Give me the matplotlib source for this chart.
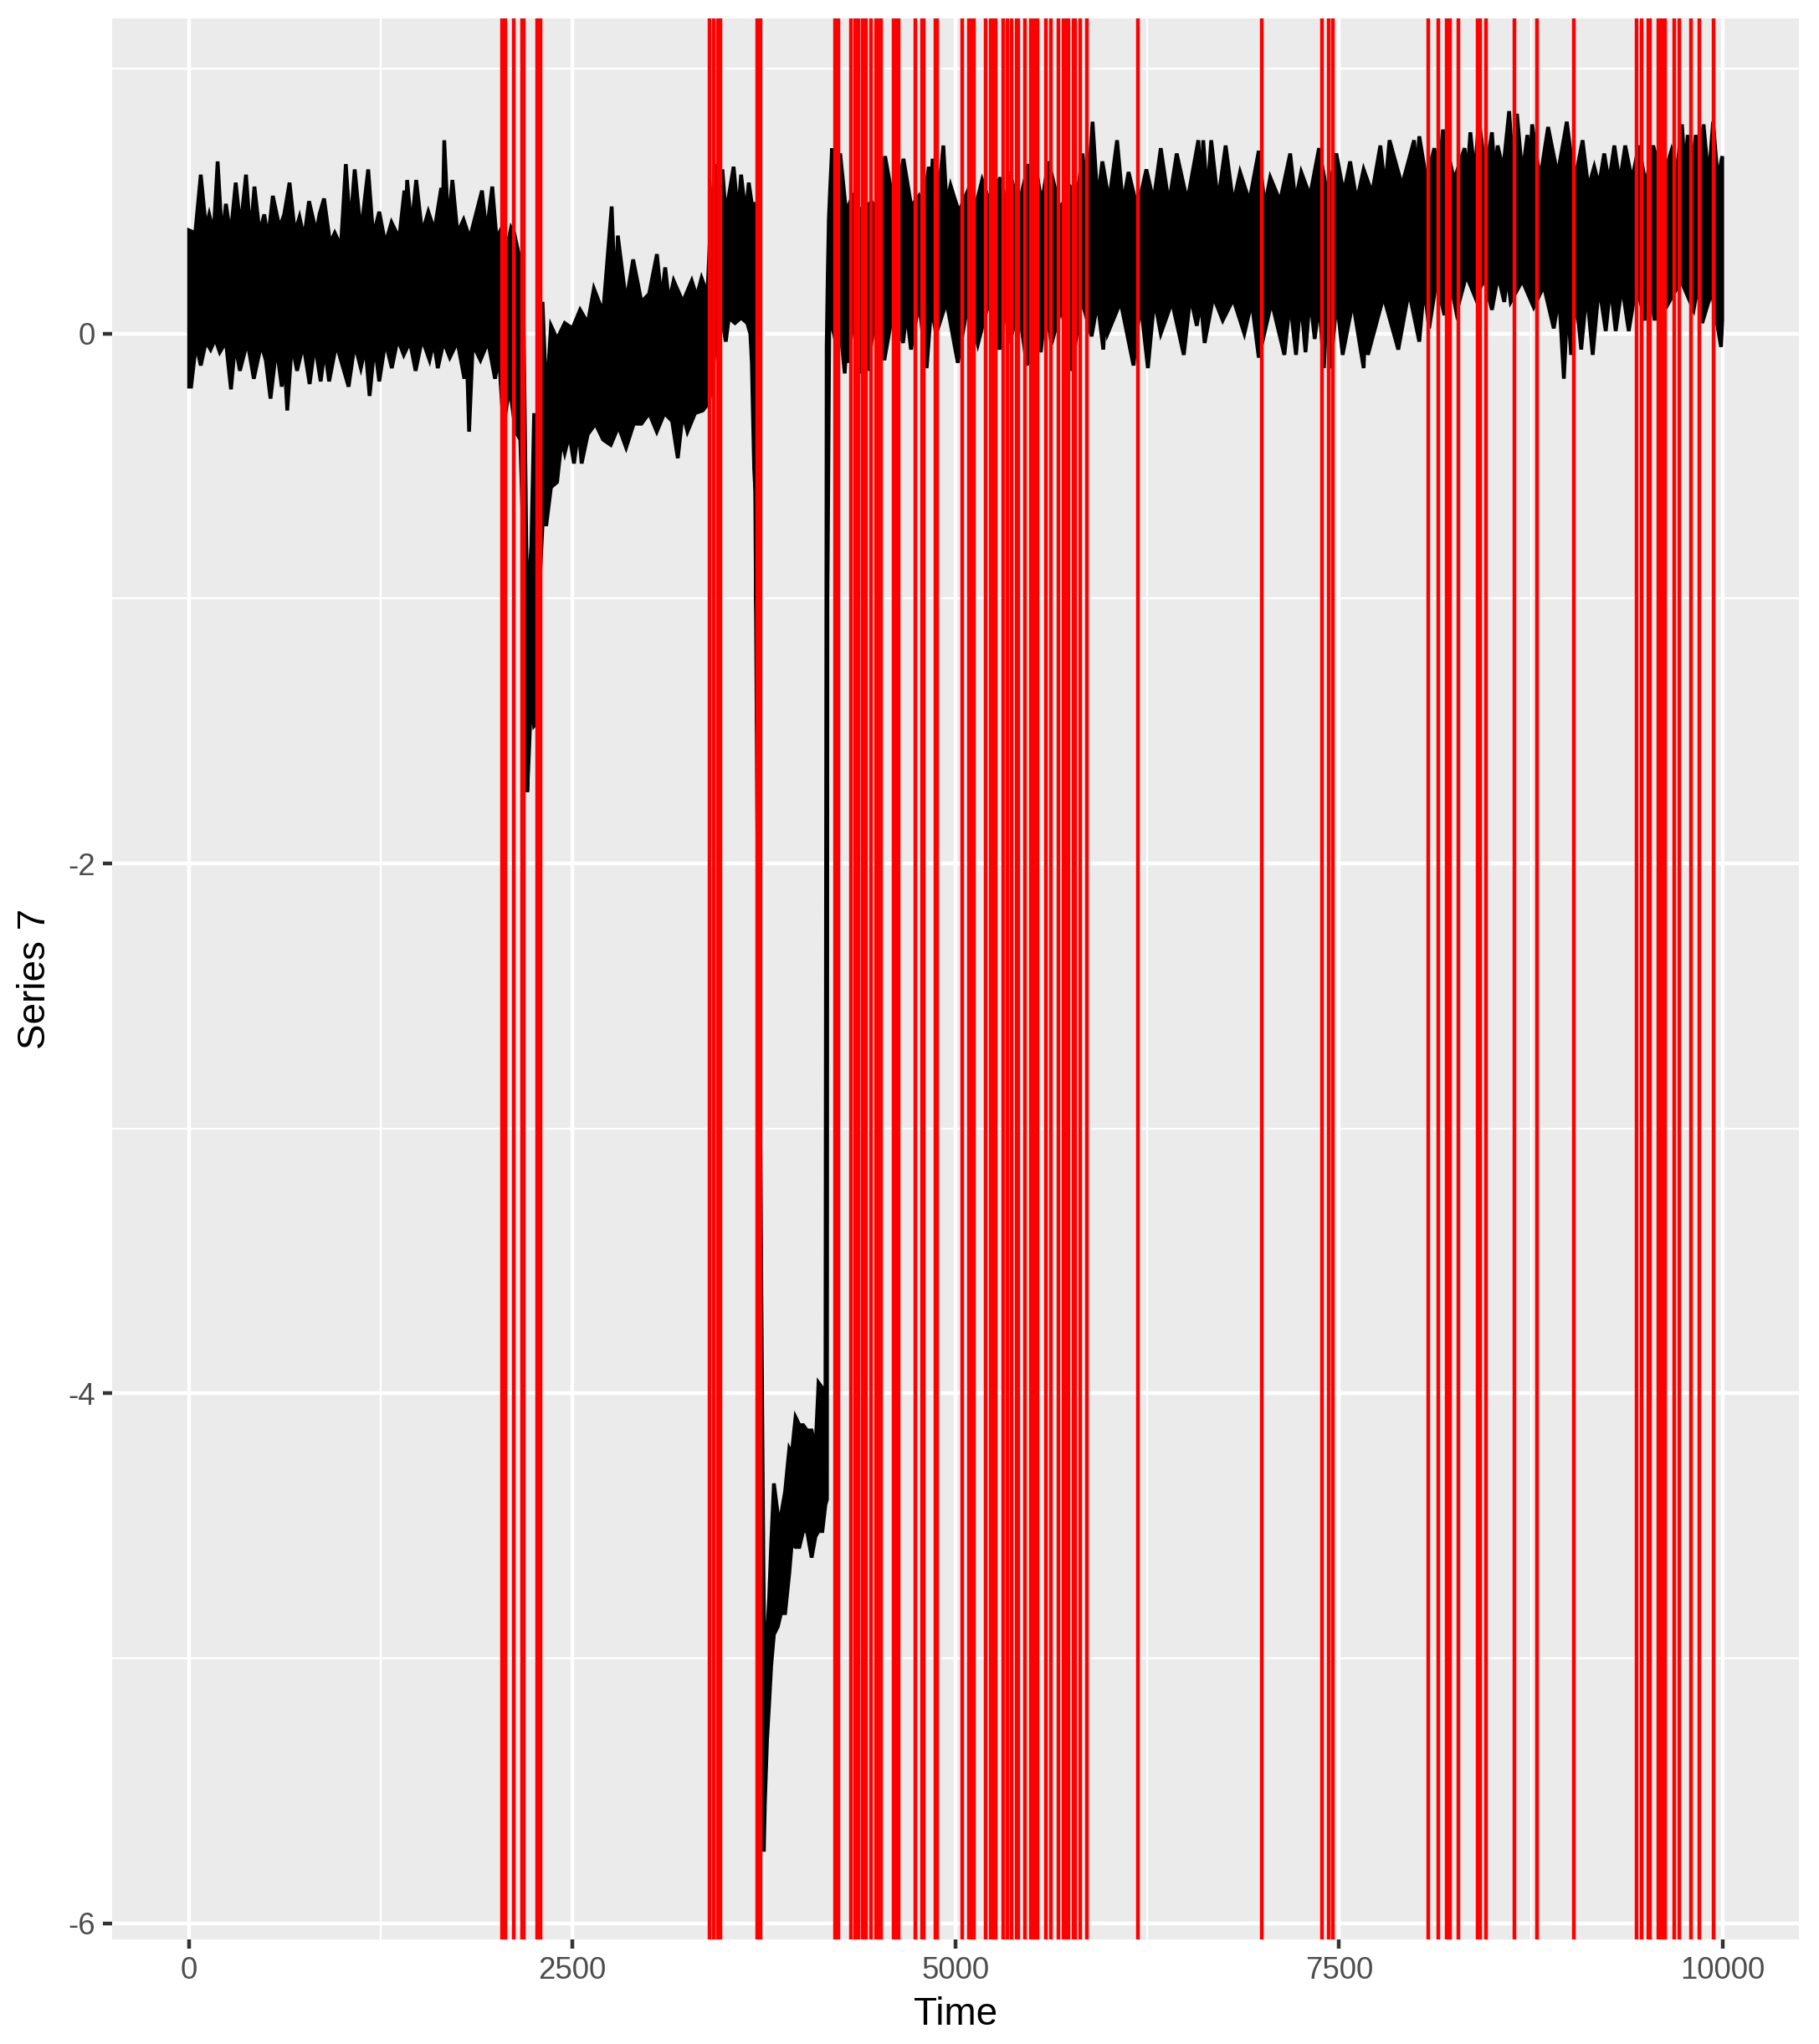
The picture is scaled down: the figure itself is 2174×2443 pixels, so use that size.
import numpy as np
import matplotlib
matplotlib.use("Agg")
import matplotlib.pyplot as plt

# ---------------- data ----------------
# The 10000-point series is drawn as a dense band; its upper and lower edges
# (local peaks / troughs and the shoulders between them) were read off the picture
# as (time, value) pairs, segment by segment.

# t 0-2000: noisy level around 0.1
upper_seg_a = [(0, 0.39), (40, 0.38), (76, 0.60), (110, 0.40), (131, 0.45), (160, 0.38),
               (186, 0.65), (215, 0.36), (240, 0.49), (270, 0.37), (304, 0.57), (335, 0.40),
               (371, 0.60), (400, 0.37), (426, 0.555), (460, 0.38), (490, 0.45), (515, 0.36),
               (546, 0.52), (590, 0.40), (620, 0.45), (655, 0.57), (690, 0.38), (720, 0.44),
               (750, 0.36), (782, 0.50), (830, 0.38), (850, 0.45), (880, 0.51), (920, 0.34),
               (950, 0.38), (990, 0.33), (1022, 0.64), (1050, 0.40), (1080, 0.62), (1120, 0.38),
               (1168, 0.62), (1200, 0.37), (1240, 0.46), (1280, 0.34), (1320, 0.42), (1370, 0.36),
               (1404, 0.54), (1412, 0.42), (1422, 0.58), (1450, 0.40), (1481, 0.58), (1520, 0.38),
               (1560, 0.46), (1600, 0.39), (1644, 0.55), (1654, 0.45), (1664, 0.73), (1690, 0.40),
               (1717, 0.58), (1750, 0.38), (1790, 0.43), (1830, 0.36), (1870, 0.45), (1910, 0.54),
               (1940, 0.38), (1977, 0.555), (2005, 0.36)]
lower_seg_a = [(0, -0.20), (13, -0.20), (45, -0.04), (76, -0.12), (110, -0.03), (140, -0.06),
               (170, -0.02), (200, -0.07), (240, -0.03), (273, -0.21), (300, -0.04), (331, -0.14),
               (380, -0.03), (422, -0.17), (470, -0.04), (500, -0.10), (531, -0.245), (570, -0.05),
               (604, -0.20), (620, -0.08), (640, -0.29), (670, -0.04), (704, -0.14), (745, -0.04),
               (786, -0.19), (820, -0.04), (858, -0.18), (885, -0.06), (913, -0.18), (960, -0.04),
               (1000, -0.12), (1040, -0.20), (1080, -0.04), (1120, -0.13), (1150, -0.05),
               (1177, -0.235), (1210, -0.04), (1240, -0.18), (1280, -0.03), (1322, -0.13),
               (1360, -0.02), (1400, -0.08), (1440, -0.03), (1477, -0.14), (1520, -0.02),
               (1568, -0.10), (1595, -0.03), (1622, -0.13), (1660, -0.03), (1700, -0.09),
               (1750, -0.03), (1795, -0.17), (1810, -0.06), (1826, -0.37), (1850, -0.04),
               (1900, -0.10), (1950, -0.03), (1995, -0.17), (2020, -0.08)]

# t 2000-2305: first dip down to -1.7
upper_seg_b = [(2040, 0.40), (2075, 0.33), (2100, 0.40), (2120, 0.38), (2150, 0.30), (2180, 0.10),
               (2195, -0.59), (2205, -1.07), (2215, -0.95), (2232, -0.80), (2250, -0.30),
               (2265, -0.85), (2290, -0.50), (2305, 0.12)]
lower_seg_b = [(2050, -0.35), (2090, -0.20), (2130, -0.37), (2160, -0.40), (2195, -1.10),
               (2205, -1.73), (2215, -1.60), (2232, -1.36), (2250, -1.48), (2265, -1.47),
               (2290, -0.90), (2305, -0.72)]

# t 2305-3400: slow recovery
upper_seg_c = [(2330, -0.25), (2360, 0.03), (2400, -0.02), (2450, 0.04), (2500, 0.02), (2550, 0.09),
               (2600, 0.04), (2640, 0.17), (2700, 0.08), (2756, 0.48), (2780, 0.12), (2796, 0.37),
               (2850, 0.12), (2896, 0.28), (2950, 0.12), (3000, 0.15), (3051, 0.30), (3080, 0.13),
               (3105, 0.25), (3130, 0.12), (3160, 0.20), (3220, 0.12), (3278, 0.20), (3310, 0.14),
               (3342, 0.21), (3380, 0.15)]
lower_seg_c = [(2330, -0.72), (2360, -0.58), (2400, -0.56), (2430, -0.40), (2450, -0.45),
               (2480, -0.38), (2510, -0.49), (2540, -0.36), (2560, -0.49), (2600, -0.38),
               (2650, -0.34), (2700, -0.40), (2750, -0.42), (2800, -0.35), (2850, -0.43),
               (2900, -0.34), (2950, -0.34), (3000, -0.30), (3050, -0.37), (3100, -0.30),
               (3150, -0.33), (3187, -0.47), (3220, -0.30), (3250, -0.37), (3300, -0.30),
               (3350, -0.29), (3390, -0.26)]

# t 3400-3690: raised plateau, then the big drop
upper_seg_d = [(3400, 0.40), (3430, 0.64), (3460, 0.45), (3478, 0.62), (3500, 0.45), (3551, 0.63),
               (3580, 0.45), (3600, 0.60), (3630, 0.45), (3650, 0.57), (3670, 0.49), (3687, 0.49),
               (3695, -0.60)]
lower_seg_d = [(3405, -0.20), (3430, -0.05), (3478, 0.05), (3500, -0.03), (3520, 0.06),
               (3560, 0.04), (3600, 0.06), (3640, 0.04), (3660, 0.00), (3670, -0.11),
               (3675, -0.25), (3685, -0.51), (3692, -0.59)]

# t 3745-4160: deep low level, recovering
upper_seg_e = [(3745, -4.62), (3752, -5.00), (3769, -4.92), (3783, -4.77), (3796, -4.57),
               (3814, -4.34), (3840, -4.46), (3860, -4.46), (3887, -4.37), (3914, -4.21),
               (3930, -4.23), (3955, -4.09), (3980, -4.12), (4005, -4.12), (4030, -4.14),
               (4060, -4.14), (4085, -4.21), (4105, -3.96), (4130, -3.98), (4150, -3.98)]
lower_seg_e = [(3748, -5.73), (3755, -5.55), (3769, -5.31), (3783, -5.17), (3796, -5.03),
               (3814, -4.91), (3840, -4.88), (3860, -4.83), (3887, -4.83), (3914, -4.68),
               (3930, -4.57), (3955, -4.58), (3980, -4.58), (4005, -4.52), (4030, -4.52),
               (4060, -4.62), (4085, -4.54), (4105, -4.52), (4130, -4.52), (4150, -4.42),
               (4160, -4.40)]

# t 4155-4205: jump back up
upper_seg_f = [(4158, -0.05), (4165, 0.22), (4172, 0.43), (4180, 0.54), (4193, 0.70), (4205, 0.60)]
lower_seg_f = [(4163, -1.00), (4168, -0.60), (4175, 0.03), (4185, 0.05), (4205, 0.00)]

# t 4205-10000: noisy level around 0.35
upper_seg_g = [(4246, 0.68), (4285, 0.46), (4327, 0.52), (4390, 0.45), (4449, 0.50), (4490, 0.46),
               (4539, 0.67), (4600, 0.47), (4659, 0.66), (4710, 0.48), (4759, 0.52), (4790, 0.47),
               (4824, 0.63), (4835, 0.50), (4849, 0.66), (4885, 0.50), (4919, 0.71), (4940, 0.49),
               (4966, 0.56), (5020, 0.46), (5079, 0.54), (5125, 0.47), (5172, 0.58), (5230, 0.48),
               (5289, 0.59), (5320, 0.47), (5351, 0.61), (5410, 0.48), (5473, 0.64), (5495, 0.50),
               (5520, 0.64), (5560, 0.49), (5605, 0.65), (5680, 0.47), (5749, 0.55), (5790, 0.50),
               (5826, 0.68), (5860, 0.51), (5892, 0.80), (5925, 0.50), (5956, 0.65), (6000, 0.50),
               (6052, 0.73), (6090, 0.49), (6127, 0.61), (6185, 0.47), (6243, 0.62), (6290, 0.50),
               (6337, 0.70), (6390, 0.49), (6441, 0.68), (6510, 0.50), (6582, 0.73), (6598, 0.55),
               (6614, 0.73), (6640, 0.52), (6666, 0.73), (6710, 0.50), (6760, 0.71), (6810, 0.49),
               (6854, 0.61), (6915, 0.50), (6976, 0.69), (7015, 0.48), (7051, 0.59), (7115, 0.50),
               (7181, 0.68), (7215, 0.50), (7253, 0.61), (7310, 0.52), (7369, 0.70), (7425, 0.52),
               (7482, 0.68), (7530, 0.53), (7572, 0.65), (7615, 0.50), (7660, 0.62), (7715, 0.53),
               (7769, 0.71), (7800, 0.55), (7829, 0.73), (7910, 0.56), (7989, 0.73), (8005, 0.60),
               (8023, 0.745), (8070, 0.58), (8121, 0.70), (8150, 0.58), (8177, 0.77), (8250, 0.58),
               (8318, 0.70), (8337, 0.60), (8356, 0.76), (8385, 0.60), (8412, 0.81), (8455, 0.60),
               (8497, 0.76), (8515, 0.60), (8534, 0.71), (8570, 0.62), (8609, 0.84), (8635, 0.62),
               (8660, 0.83), (8695, 0.60), (8728, 0.75), (8744, 0.62), (8759, 0.79), (8810, 0.58),
               (8863, 0.78), (8925, 0.60), (8985, 0.80), (9035, 0.57), (9088, 0.73), (9125, 0.55),
               (9164, 0.63), (9195, 0.56), (9229, 0.68), (9260, 0.57), (9295, 0.71), (9330, 0.57),
               (9366, 0.71), (9410, 0.58), (9455, 0.71), (9500, 0.56), (9548, 0.71), (9610, 0.58),
               (9667, 0.69), (9700, 0.60), (9736, 0.79), (9755, 0.62), (9774, 0.75), (9800, 0.60),
               (9826, 0.75), (9850, 0.60), (9877, 0.79), (9910, 0.58), (9939, 0.80), (9970, 0.58),
               (9999, 0.67)]
lower_seg_g = [(4240, 0.06), (4276, -0.15), (4290, 0.02), (4299, -0.11), (4335, 0.08), (4374, -0.15),
               (4400, 0.06), (4426, -0.14), (4480, 0.10), (4534, -0.10), (4595, 0.10), (4656, -0.035),
               (4680, 0.08), (4708, -0.06), (4760, 0.12), (4810, -0.13), (4840, 0.10), (4872, 0.00),
               (4940, 0.12), (5013, -0.11), (5080, 0.12), (5144, -0.04), (5215, 0.12), (5285, -0.06),
               (5320, 0.11), (5351, -0.035), (5410, 0.10), (5464, -0.12), (5510, 0.12), (5554, -0.07),
               (5590, 0.12), (5623, -0.04), (5690, 0.10), (5755, -0.14), (5820, 0.13), (5886, -0.01),
               (5925, 0.12), (5962, -0.06), (5975, 0.08), (5990, 0.00), (6075, 0.12), (6159, -0.12),
               (6205, 0.12), (6253, -0.13), (6295, 0.13), (6337, 0.00), (6410, 0.12), (6487, -0.08),
               (6530, 0.14), (6572, 0.03), (6598, 0.12), (6623, -0.035), (6680, 0.14), (6741, 0.05),
               (6810, 0.13), (6882, 0.00), (6930, 0.12), (6976, -0.09), (7060, 0.12), (7143, -0.08),
               (7180, 0.12), (7219, -0.08), (7250, 0.13), (7281, -0.07), (7310, 0.14), (7341, -0.02),
               (7370, 0.12), (7401, -0.13), (7420, 0.10), (7444, -0.13), (7485, 0.13), (7523, -0.08),
               (7590, 0.12), (7660, -0.13), (7675, 0.08), (7688, -0.08), (7790, 0.14), (7886, -0.06),
               (7955, 0.16), (8023, -0.03), (8055, 0.18), (8087, 0.02), (8135, 0.20), (8187, 0.07),
               (8225, 0.20), (8265, 0.08), (8330, 0.22), (8393, 0.13), (8445, 0.21), (8497, 0.09),
               (8537, 0.22), (8577, 0.12), (8598, 0.22), (8619, 0.12), (8695, 0.20), (8769, 0.10),
               (8835, 0.18), (8900, 0.02), (8935, 0.14), (8966, -0.17), (8990, 0.12), (9013, -0.08),
               (9045, 0.14), (9079, -0.06), (9115, 0.16), (9154, -0.08), (9195, 0.18), (9239, 0.01),
               (9270, 0.18), (9304, 0.01), (9345, 0.18), (9389, 0.01), (9440, 0.19), (9492, 0.05),
               (9525, 0.19), (9558, 0.05), (9600, 0.20), (9643, 0.11), (9730, 0.20), (9812, 0.09),
               (9840, 0.18), (9868, 0.04), (9930, 0.16), (9991, -0.05), (9999, 0.05)]

# detected change points (red vertical lines)
change_points = [2041, 2063, 2117, 2172, 2183, 2270, 2292, 3394, 3421, 3449, 3465, 3705,
                 3727, 4210, 4232, 4316, 4344, 4365, 4395, 4412, 4447, 4480, 4496, 4513,
                 4595, 4611, 4627, 4736, 4780, 4791, 4865, 4881, 5042, 5086, 5102, 5118,
                 5195, 5228, 5244, 5260, 5309, 5337, 5364, 5394, 5410, 5451, 5489, 5511,
                 5533, 5588, 5620, 5670, 5702, 5719, 5735, 5768, 5779, 5811, 5855, 6188,
                 6995, 7388, 7432, 7459, 8081, 8147, 8201, 8223, 8278, 8406, 8422, 8458,
                 8643, 8791, 9031, 9440, 9473, 9516, 9527, 9582, 9604, 9626, 9686, 9718,
                 9795, 9849, 9942]

x_ticks = [0, 2500, 5000, 7500, 10000]
x_minor = [1250, 3750, 6250, 8750]
y_ticks = [-6, -4, -2, 0]
y_minor = [-5, -3, -1, 1]
x_label = "Time"
y_label = "Series 7"

# ---------------- drawing ----------------
upper = (upper_seg_a + upper_seg_b + upper_seg_c + upper_seg_d + upper_seg_e
         + upper_seg_f + upper_seg_g)
lower = (lower_seg_a + lower_seg_b + lower_seg_c + lower_seg_d + lower_seg_e
         + lower_seg_f + lower_seg_g)
upper_t = [p[0] for p in upper]
upper_v = [p[1] for p in upper]
lower_t = [p[0] for p in lower]
lower_v = [p[1] for p in lower]

DPI = 300
W, H = 2174, 2443
fig = plt.figure(figsize=(W / DPI, H / DPI), dpi=DPI)
fig.patch.set_facecolor("white")

left, right = 134.4 / W, 2150.2 / W
top, bottom = 1 - 22.0 / H, 1 - 2317.6 / H
ax = fig.add_axes([left, bottom, right - left, top - bottom])
ax.set_facecolor("#EBEBEB")

lw = 1.07  # ggplot linewidth 0.5

# band polygon: upper edge forward, lower edge backward
poly_t = upper_t + lower_t[::-1]
poly_v = upper_v + lower_v[::-1]
ax.fill(poly_t, poly_v, facecolor="black", edgecolor="black", linewidth=lw,
        joinstyle="miter", zorder=3)

for cp in change_points:
    ax.axvline(cp, color="#FF0000", linewidth=lw, zorder=4)

ax.set_xlim(-500, 10500)
ax.set_ylim(-6.06, 1.19)

ax.set_xticks(x_ticks)
ax.set_xticklabels([str(v) for v in x_ticks])
ax.set_xticks(x_minor, minor=True)
ax.set_yticks(y_ticks)
ax.set_yticklabels([str(v) for v in y_ticks])
ax.set_yticks(y_minor, minor=True)

ax.grid(which="major", color="white", linewidth=lw)
ax.grid(which="minor", color="white", linewidth=lw / 2)
ax.set_axisbelow(True)

for s in ax.spines.values():
    s.set_visible(False)

ax.tick_params(axis="both", which="major", length=2.75, width=lw, color="#333333",
               labelcolor="#4D4D4D", labelsize=8.8, pad=2.2)
ax.tick_params(axis="both", which="minor", length=0)

fam = ["Liberation Sans", "DejaVu Sans"]
for lab in ax.get_xticklabels() + ax.get_yticklabels():
    lab.set_fontfamily(fam)

ax.set_xlabel(x_label, fontsize=11, color="black", labelpad=3, fontfamily=fam)
ax.set_ylabel(y_label, fontsize=11, color="black", labelpad=4, fontfamily=fam)

fig.savefig("out.png", dpi=DPI)
